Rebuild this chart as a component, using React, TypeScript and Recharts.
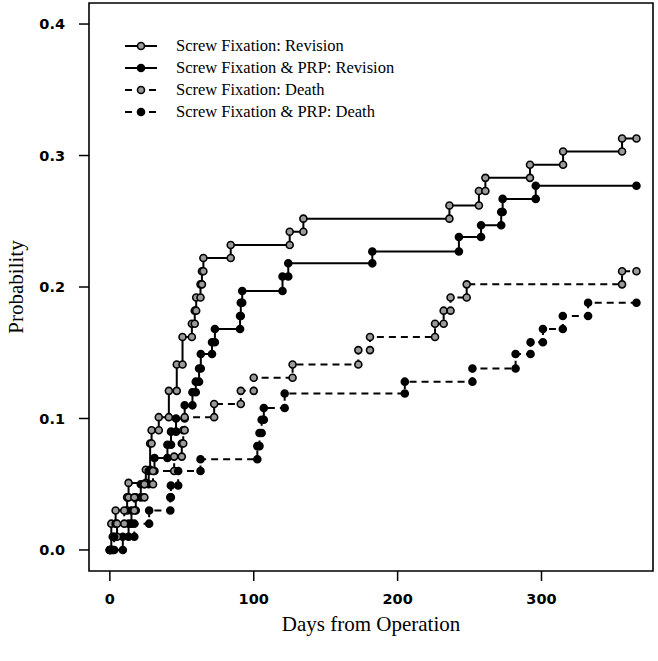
import React from "react";
import { LineChart, Line, XAxis, YAxis, ReferenceArea, Legend } from "recharts";

// cumulative probability steps (day of step, new value)
const sfRevDays = [0, 1, 4, 12, 13, 25, 28, 29, 34, 41, 46.5, 50.5, 57, 59, 60, 63, 64, 65, 84, 125, 134.5, 236, 256.5, 261, 292, 315, 356, 366];
const sfRevProb = [0, 0.02, 0.03, 0.04, 0.051, 0.061, 0.081, 0.091, 0.101, 0.121, 0.141, 0.162, 0.172, 0.182, 0.192, 0.202, 0.212, 0.222, 0.232, 0.242, 0.252, 0.262, 0.273, 0.283, 0.293, 0.303, 0.313, 0.313];

const prpRevDays = [0, 9, 13, 15, 18, 21.5, 27, 31, 40, 42.5, 46, 52, 57.4, 59.7, 62, 63.2, 71, 73, 90.5, 91, 92, 120, 124, 182.4, 242.6, 258, 272, 273, 296, 366];
const prpRevProb = [0, 0.01, 0.02, 0.03, 0.04, 0.05, 0.06, 0.07, 0.08, 0.09, 0.1, 0.11, 0.12, 0.128, 0.138, 0.149, 0.158, 0.168, 0.178, 0.188, 0.197, 0.208, 0.218, 0.227, 0.238, 0.247, 0.257, 0.267, 0.277, 0.277];

const sfDeathDays = [0, 2, 5, 10, 17, 24, 30, 44.7, 50, 51, 52, 72.5, 91, 100, 127, 172.7, 180.8, 226, 232, 236.8, 248, 356, 366];
const sfDeathProb = [0, 0.01, 0.02, 0.03, 0.04, 0.05, 0.06, 0.071, 0.081, 0.091, 0.101, 0.111, 0.121, 0.131, 0.141, 0.152, 0.162, 0.172, 0.182, 0.192, 0.202, 0.212, 0.212];

const prpDeathDays = [0, 3, 17, 27.3, 42, 42.4, 47.5, 63, 102.5, 104, 105.5, 107, 121.5, 205, 252, 282, 292.4, 301, 314.8, 332.4, 366];
const prpDeathProb = [0, 0.01, 0.02, 0.03, 0.04, 0.049, 0.06, 0.069, 0.079, 0.089, 0.099, 0.108, 0.119, 0.128, 0.138, 0.149, 0.158, 0.168, 0.178, 0.188, 0.188];

const xTicks = [0, 100, 200, 300];
const yTicks = [0, 0.1, 0.2, 0.3, 0.4];

const labels = [
  "Screw Fixation: Revision",
  "Screw Fixation & PRP: Revision",
  "Screw Fixation: Death",
  "Screw Fixation & PRP: Death",
];

// turn step changes into the corner points R draws (old value, then new value)
function steps(days: number[], prob: number[]) {
  const out: { x: number; y: number }[] = [{ x: days[0], y: prob[0] }];
  for (let i = 1; i < days.length; i++) {
    if (prob[i] !== prob[i - 1]) out.push({ x: days[i], y: prob[i - 1] });
    out.push({ x: days[i], y: prob[i] });
  }
  return out;
}

const series = [
  { name: labels[0], data: steps(sfRevDays, sfRevProb), dash: undefined, fill: "#9a9a9a" },
  { name: labels[1], data: steps(prpRevDays, prpRevProb), dash: undefined, fill: "#000" },
  { name: labels[2], data: steps(sfDeathDays, sfDeathProb), dash: "7 5", fill: "#9a9a9a" },
  { name: labels[3], data: steps(prpDeathDays, prpDeathProb), dash: "7 5", fill: "#000" },
];

const tickFont = { fontFamily: "DejaVu Sans", fontWeight: 700, fontSize: 14.5, fill: "#000" };
const serif = "Liberation Serif, Times New Roman, serif";

function makeDot(fill: string) {
  return (p: any) => (
    <circle key={`d${p.index}`} cx={p.cx} cy={p.cy} r={3.5} fill={fill} stroke="#000" strokeWidth={1.6} />
  );
}

function LegendBox() {
  return (
    <div style={{ fontFamily: serif, fontSize: 16.5, color: "#000" }}>
      {series.map((s) => (
        <div key={s.name} style={{ display: "flex", alignItems: "center", height: 22 }}>
          <svg width={50} height={22} style={{ marginRight: 4 }}>
            <line x1={3} x2={35} y1={11} y2={11} stroke="#000" strokeWidth={2} strokeDasharray={s.dash ? "7 5" : undefined} />
            <circle cx={19} cy={11} r={3.5} fill={s.fill} stroke="#000" strokeWidth={1.6} />
          </svg>
          <span>{s.name}</span>
        </div>
      ))}
    </div>
  );
}

function YTitle() {
  return (
    <text x={16} y={287} transform="rotate(-90 16 287)" textAnchor="middle" dominantBaseline="central"
      fontFamily={serif} fontSize={21} fill="#000">
      Probability
    </text>
  );
}

function XTitle() {
  return (
    <text x={371} y={624} textAnchor="middle" dominantBaseline="central" fontFamily={serif} fontSize={21} fill="#000">
      Days from Operation
    </text>
  );
}

export default function App() {
  return (
    <div style={{ position: "absolute", left: 0, top: 0, width: 658, height: 661, background: "#fff" }}>
      <LineChart width={658} height={661} margin={{ top: 3, right: 5, bottom: 0, left: 0 }}>
        <XAxis
          type="number"
          dataKey="x"
          domain={[-14.5, 377.5]}
          allowDataOverflow
          ticks={xTicks}
          tickSize={10}
          tickMargin={13}
          axisLine={false}
          tickLine={{ stroke: "#000", strokeWidth: 1.5 }}
          tick={tickFont}
          height={90}
          label={<XTitle />}
        />
        <YAxis
          type="number"
          dataKey="y"
          domain={[-0.016, 0.416]}
          allowDataOverflow
          ticks={yTicks}
          tickFormatter={(v: number) => v.toFixed(1)}
          tickSize={10}
          tickMargin={14}
          axisLine={false}
          tickLine={{ stroke: "#000", strokeWidth: 1.5 }}
          tick={tickFont}
          width={89}
          label={<YTitle />}
        />
        <ReferenceArea x1={-14.5} x2={377.5} y1={-0.016} y2={0.416} fill="none" stroke="#000" strokeWidth={1.6} />
        <Legend
          layout="vertical"
          align="center"
          verticalAlign="middle"
          content={() => <LegendBox />}
          wrapperStyle={{ left: 122, top: 35, width: 300 }}
        />
        {series.map((s) => (
          <Line
            key={s.name}
            name={s.name}
            data={s.data}
            dataKey="y"
            type="linear"
            stroke="#000"
            strokeWidth={2}
            strokeDasharray={s.dash}
            dot={makeDot(s.fill)}
            activeDot={false}
            isAnimationActive={false}
          />
        ))}
      </LineChart>
    </div>
  );
}
